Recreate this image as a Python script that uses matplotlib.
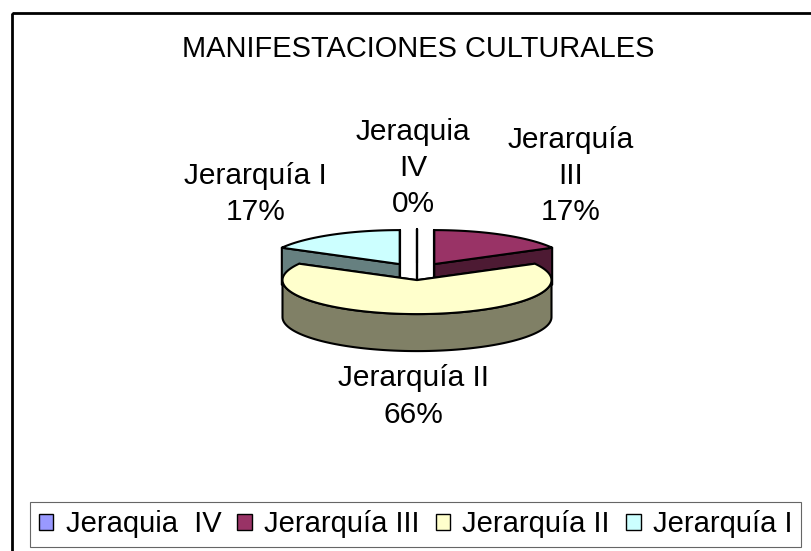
import matplotlib.pyplot as plt
import matplotlib.patches as mpatches
import numpy as np

plt.rcParams['font.family'] = ['Liberation Sans', 'DejaVu Sans']

# data
categories = ["Jeraquia  IV", "Jerarquía III", "Jerarquía II", "Jerarquía I"]
label_names = ["Jeraquia\nIV", "Jerarquía\nIII", "Jerarquía II", "Jerarquía I"]
values = [0, 17, 66, 17]
title = "MANIFESTACIONES CULTURALES"

top_colors = ["#9999FF", "#993366", "#FFFFCC", "#CCFFFF"]
side_colors = ["#4D4D80", "#4D1A33", "#808066", "#668080"]

# layout of the 3d pie (pixel coordinates, y down)
W, H = 812, 551
cx, cy = 417, 271.5
rx, ry, depth = 134.5, 34, 37
explode = 34

fig = plt.figure(figsize=(W / 100, H / 100), dpi=100)
ax = fig.add_axes([0, 0, 1, 1])
ax.set_xlim(0, W)
ax.set_ylim(H, 0)
ax.axis('off')

# outer frame (runs off the right and bottom of the picture)
ax.add_patch(mpatches.Rectangle((12, 13), W + 20, H + 20, fill=False,
                                edgecolor='black', lw=2.0, zorder=1))

ax.text(418, 49, title, ha='center', va='center', fontsize=20.9)

total = sum(values)
fracs = [v / total for v in values]
starts = np.cumsum([0] + fracs[:-1]) * 360
ends = starts + np.array(fracs) * 360


def rim(theta, ox, oy, dz=0):
    t = np.radians(theta)
    return cx + ox + rx * np.sin(t), cy + oy - ry * np.cos(t) + dz


def poly(pts, fc, z):
    ax.add_patch(mpatches.Polygon(pts, closed=True, facecolor=fc,
                                  edgecolor='black', lw=1.5, zorder=z,
                                  joinstyle='round'))


# paint back slices first
order = sorted(range(len(values)),
               key=lambda i: -np.cos(np.radians((starts[i] + ends[i]) / 2)))
for z, i in enumerate(order):
    a0, a1 = starts[i], ends[i]
    mid = np.radians((a0 + a1) / 2)
    ox = explode * np.sin(mid)
    oy = -explode * np.cos(mid) * ry / rx
    tip = (cx + ox, cy + oy)
    zb = 2 + z * 4
    # radial cut faces
    for a in (a0, a1):
        x, y = rim(a, ox, oy)
        poly([tip, (x, y), (x, y + depth), (tip[0], tip[1] + depth)],
             side_colors[i], zb)
    # outer side, front part only
    f0, f1 = max(a0, 90), min(a1, 270)
    if f1 > f0:
        th = np.linspace(f0, f1, 120)
        xs, ys = rim(th, ox, oy)
        pts = list(zip(xs, ys)) + list(zip(xs[::-1], ys[::-1] + depth))
        poly(pts, side_colors[i], zb + 1)
    # top face
    th = np.linspace(a0, a1, max(2, int(a1 - a0) + 2))
    xs, ys = rim(th, ox, oy)
    poly([tip] + list(zip(xs, ys)), top_colors[i], zb + 2)

    # data label
    lx = cx - 4 + 310 * np.sin(mid)
    ly = cy - 56 * np.cos(mid)
    pct = "%d%%" % round(values[i] / total * 100)
    if np.cos(mid) >= 0:
        ax.text(lx, ly + 3, label_names[i] + "\n" + pct, ha='center',
                va='bottom', fontsize=21.5, linespacing=1.38,
                multialignment='center')
    else:
        ax.text(lx, ly + depth, label_names[i] + "\n" + pct, ha='center',
                va='top', fontsize=21.5, linespacing=1.38,
                multialignment='center')

handles = [mpatches.Patch(facecolor=c, edgecolor='black', lw=1.0)
           for c in top_colors]
leg = fig.legend(handles, categories, loc='center', ncol=4, fontsize=21,
                 bbox_to_anchor=(415.5 / W, 1 - 524.5 / H), frameon=True,
                 fancybox=False, handlelength=0.5, handleheight=0.5,
                 handletextpad=0.42, columnspacing=0.55, borderpad=0.3,
                 borderaxespad=0)
leg.get_frame().set_edgecolor('#404040')
leg.get_frame().set_linewidth(0.8)

fig.savefig("out.png", dpi=100)
